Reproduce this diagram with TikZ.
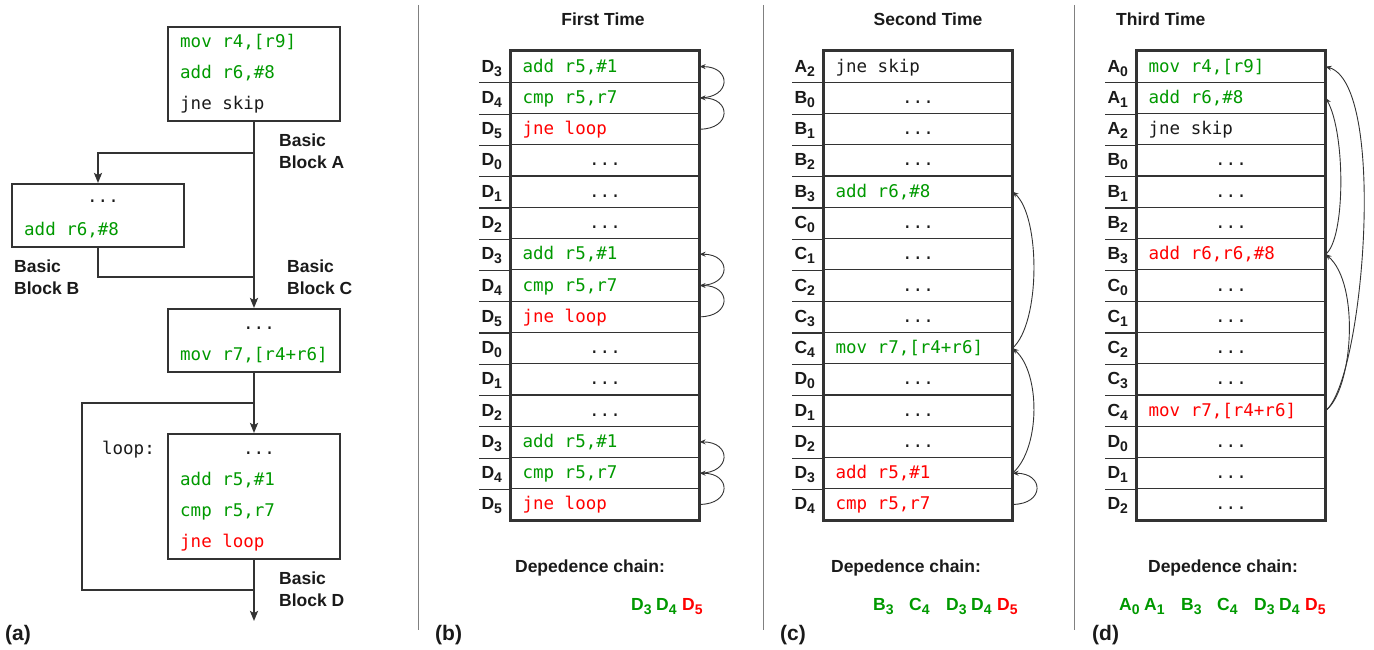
\documentclass[tikz,border=0pt]{standalone}
\usepackage{fontspec}
\setmainfont{Liberation Sans}
\newfontfamily\codefont{DejaVu Sans Mono}[WordSpace={1,0,0}]
\usetikzlibrary{arrows.meta}
\definecolor{cg}{HTML}{009900}
\definecolor{cr}{HTML}{FF0000}
\definecolor{ink}{HTML}{1A1A1A}
\definecolor{boxc}{HTML}{333333}
\newcommand\code{\codefont\fontsize{17.5}{20}\selectfont}
\newcommand\lfont{\bfseries\fontsize{17.5}{22}\selectfont}
\newcommand\pfont{\bfseries\fontsize{21}{24}\selectfont}
\newcommand\sub[1]{\raisebox{-4pt}{\fontsize{14}{14}\selectfont #1}}
% left-aligned code row
\newcommand\trowL[5]{%
  \node[rowbox] (#1) at (#2,#3) {};
  \node[ctext, anchor=base west] at ([xshift=12pt,yshift=-5.5pt]#1.west) {#5};
  \node[lbl, anchor=base west] at ([xshift=-29pt,yshift=-5.5pt]#1.west) {#4};
}
% centered "..." row
\newcommand\trowC[4]{%
  \node[rowbox] (#1) at (#2,#3) {};
  \node[ctext, anchor=base] at ([yshift=-5.5pt]#1.center) {...};
  \node[lbl, anchor=base west] at ([xshift=-29pt,yshift=-5.5pt]#1.west) {#4};
}
\newcommand\tsep[1]{\draw[sep] (#1.south west) -- ++(-31,0);}
\begin{document}
\begin{tikzpicture}[x=1pt,y=-1pt,
  every node/.style={inner sep=0pt, text=ink},
  lbl/.style={font=\lfont},
  ctext/.style={font=\code, anchor=base west},
  cbox/.style={draw=boxc, line width=2pt, minimum width=172pt},
  flow/.style={draw=boxc, line width=2pt},
  flowarr/.style={flow, -{Stealth[length=10pt,width=8pt,inset=2pt]}},
  rowbox/.style={draw=boxc, line width=1.2pt, minimum width=188pt, minimum height=31.27pt},
  outer/.style={draw=boxc, line width=2pt},
  sep/.style={draw=boxc, line width=1.2pt},
  dep/.style={-{Stealth[length=6pt,width=5pt]}, draw=boxc, line width=0.9pt},
  divider/.style={draw=gray, line width=1pt},
  chain/.style={font=\lfont, anchor=base west},
  plabel/.style={font=\pfont, anchor=base west},
]
\useasboundingbox (0,0) rectangle (1374,650);

% ---------------- (a) ----------------
\node[cbox, minimum height=94pt] (A) at (254,74) {};
\node[cbox, minimum height=63pt] (B) at (98,215.5) {};
\node[cbox, minimum height=63pt] (C) at (254,340.5) {};
\node[cbox, minimum height=125pt] (D) at (254,496.5) {};

\node[ctext, text=cg] at (180,48) {mov r4,[r9]};
\node[ctext, text=cg] at (180,79) {add r6,\#8};
\node[ctext] at (180,110) {jne skip};

\node[font=\code, anchor=base] at (103,203) {...};
\node[ctext, text=cg] at (24,235) {add r6,\#8};

\node[font=\code, anchor=base] at (259,329) {...};
\node[ctext, text=cg] at (180,360) {mov r7,[r4+r6]};

\node[font=\code, anchor=base] at (259,454) {...};
\node[ctext, text=cg] at (180,485) {add r5,\#1};
\node[ctext, text=cg] at (180,516) {cmp r5,r7};
\node[ctext, text=cr] at (180,547) {jne loop};
\node[font=\code, anchor=base east] at (155,454) {loop:};

\coordinate (brA) at (254,153);
\coordinate (jC) at (254,277);
\coordinate (lpB) at (254,590);
\coordinate (lpL) at (82,590);
\coordinate (lpT) at (254,403);
\coordinate (exitD) at (254,621);

\draw[flowarr] (A.south) -- (C.north);
\draw[flowarr] (brA) -| (B.north);
\draw[flow] (B.south) |- (jC);
\draw[flowarr] (C.south) -- (D.north);
\draw[flow] (lpB) -- (lpL) |- (lpT);
\draw[flowarr] (D.south) -- (exitD);

\node[lbl, anchor=base west] at (279,147) {Basic};
\node[lbl, anchor=base west] at (279,169) {Block A};
\node[lbl, anchor=base west] at (14,272) {Basic};
\node[lbl, anchor=base west] at (14,294) {Block B};
\node[lbl, anchor=base west] at (287,272) {Basic};
\node[lbl, anchor=base west] at (287,294) {Block C};
\node[lbl, anchor=base west] at (279,584) {Basic};
\node[lbl, anchor=base west] at (279,606) {Block D};
\node[plabel] at (5,640) {(a)};

% dividers
\coordinate (v1t) at (418,5); \coordinate (v1b) at (418,630);
\coordinate (v2t) at (763,5); \coordinate (v2b) at (763,630);
\coordinate (v3t) at (1074,5); \coordinate (v3b) at (1074,630);
\draw[divider] (v1t) -- (v1b);
\draw[divider] (v2t) -- (v2b);
\draw[divider] (v3t) -- (v3b);

% ---------------- (b) ----------------
\node[lbl, anchor=base] at (603,26) {First Time};
\trowL{b1}{605}{66.6}{D\sub{3}}{\color{cg}add r5,\#1}
\trowL{b2}{605}{97.9}{D\sub{4}}{\color{cg}cmp r5,r7}
\trowL{b3}{605}{129.2}{D\sub{5}}{\color{cr}jne loop}
\trowC{b4}{605}{160.4}{D\sub{0}}
\trowC{b5}{605}{191.7}{D\sub{1}}
\trowC{b6}{605}{223.0}{D\sub{2}}
\trowL{b7}{605}{254.2}{D\sub{3}}{\color{cg}add r5,\#1}
\trowL{b8}{605}{285.5}{D\sub{4}}{\color{cg}cmp r5,r7}
\trowL{b9}{605}{316.8}{D\sub{5}}{\color{cr}jne loop}
\trowC{b10}{605}{348.1}{D\sub{0}}
\trowC{b11}{605}{379.3}{D\sub{1}}
\trowC{b12}{605}{410.6}{D\sub{2}}
\trowL{b13}{605}{441.9}{D\sub{3}}{\color{cg}add r5,\#1}
\trowL{b14}{605}{473.2}{D\sub{4}}{\color{cg}cmp r5,r7}
\trowL{b15}{605}{504.4}{D\sub{5}}{\color{cr}jne loop}
\draw[outer] (b1.north west) rectangle (b15.south east);
\foreach \i in {1,...,14} {\tsep{b\i}}
\draw[dep] (b2.east) .. controls +(32,0) and +(32,0) .. (b1.east);
\draw[dep] (b3.east) .. controls +(32,0) and +(32,0) .. (b2.east);
\draw[dep] (b8.east) .. controls +(32,0) and +(32,0) .. (b7.east);
\draw[dep] (b9.east) .. controls +(32,0) and +(32,0) .. (b8.east);
\draw[dep] (b14.east) .. controls +(32,0) and +(32,0) .. (b13.east);
\draw[dep] (b15.east) .. controls +(32,0) and +(32,0) .. (b14.east);
\node[lbl, anchor=base] at (590,572) {Depedence chain:};
\node[chain, text=cg] at (631,610) {D\sub{3}};
\node[chain, text=cg] at (656,610) {D\sub{4}};
\node[chain, text=cr] at (682,610) {D\sub{5}};
\node[plabel] at (435,640) {(b)};

% ---------------- (c) ----------------
\node[lbl, anchor=base] at (928,26) {Second Time};
\trowL{c1}{918}{66.6}{A\sub{2}}{jne skip}
\trowC{c2}{918}{97.9}{B\sub{0}}
\trowC{c3}{918}{129.2}{B\sub{1}}
\trowC{c4}{918}{160.4}{B\sub{2}}
\trowL{c5}{918}{191.7}{B\sub{3}}{\color{cg}add r6,\#8}
\trowC{c6}{918}{223.0}{C\sub{0}}
\trowC{c7}{918}{254.2}{C\sub{1}}
\trowC{c8}{918}{285.5}{C\sub{2}}
\trowC{c9}{918}{316.8}{C\sub{3}}
\trowL{c10}{918}{348.1}{C\sub{4}}{\color{cg}mov r7,[r4+r6]}
\trowC{c11}{918}{379.3}{D\sub{0}}
\trowC{c12}{918}{410.6}{D\sub{1}}
\trowC{c13}{918}{441.9}{D\sub{2}}
\trowL{c14}{918}{473.2}{D\sub{3}}{\color{cr}add r5,\#1}
\trowL{c15}{918}{504.4}{D\sub{4}}{\color{cr}cmp r5,r7}
\draw[outer] (c1.north west) rectangle (c15.south east);
\foreach \i in {1,...,14} {\tsep{c\i}}
\draw[dep] (c10.east) .. controls +(28,-25) and +(28,25) .. (c5.east);
\draw[dep] (c14.east) .. controls +(28,-25) and +(28,25) .. (c10.east);
\draw[dep] (c15.east) .. controls +(32,0) and +(32,0) .. (c14.east);
\node[lbl, anchor=base] at (906,572) {Depedence chain:};
\node[chain, text=cg] at (873,610) {B\sub{3}};
\node[chain, text=cg] at (909,610) {C\sub{4}};
\node[chain, text=cg] at (946,610) {D\sub{3}};
\node[chain, text=cg] at (971,610) {D\sub{4}};
\node[chain, text=cr] at (997,610) {D\sub{5}};
\node[plabel] at (780,640) {(c)};

% ---------------- (d) ----------------
\node[lbl, anchor=base west] at (1116,26) {Third Time};
\trowL{d1}{1231}{66.6}{A\sub{0}}{\color{cg}mov r4,[r9]}
\trowL{d2}{1231}{97.9}{A\sub{1}}{\color{cg}add r6,\#8}
\trowL{d3}{1231}{129.2}{A\sub{2}}{jne skip}
\trowC{d4}{1231}{160.4}{B\sub{0}}
\trowC{d5}{1231}{191.7}{B\sub{1}}
\trowC{d6}{1231}{223.0}{B\sub{2}}
\trowL{d7}{1231}{254.2}{B\sub{3}}{\color{cr}add r6,r6,\#8}
\trowC{d8}{1231}{285.5}{C\sub{0}}
\trowC{d9}{1231}{316.8}{C\sub{1}}
\trowC{d10}{1231}{348.1}{C\sub{2}}
\trowC{d11}{1231}{379.3}{C\sub{3}}
\trowL{d12}{1231}{410.6}{C\sub{4}}{\color{cr}mov r7,[r4+r6]}
\trowC{d13}{1231}{441.9}{D\sub{0}}
\trowC{d14}{1231}{473.2}{D\sub{1}}
\trowC{d15}{1231}{504.4}{D\sub{2}}
\draw[outer] (d1.north west) rectangle (d15.south east);
\foreach \i in {1,...,14} {\tsep{d\i}}
\draw[dep] (d12.east) .. controls +(38,-30) and +(62,18) .. (d1.east);
\draw[dep] (d12.east) .. controls +(27,-20) and +(35,30) .. (d7.east);
\draw[dep] (d7.east) .. controls +(20,-15) and +(20,35) .. (d2.east);
\node[lbl, anchor=base] at (1223,572) {Depedence chain:};
\node[chain, text=cg] at (1119,610) {A\sub{0}};
\node[chain, text=cg] at (1144,610) {A\sub{1}};
\node[chain, text=cg] at (1181,610) {B\sub{3}};
\node[chain, text=cg] at (1217,610) {C\sub{4}};
\node[chain, text=cg] at (1254,610) {D\sub{3}};
\node[chain, text=cg] at (1279,610) {D\sub{4}};
\node[chain, text=cr] at (1305,610) {D\sub{5}};
\node[plabel] at (1092,640) {(d)};
\end{tikzpicture}
\end{document}
